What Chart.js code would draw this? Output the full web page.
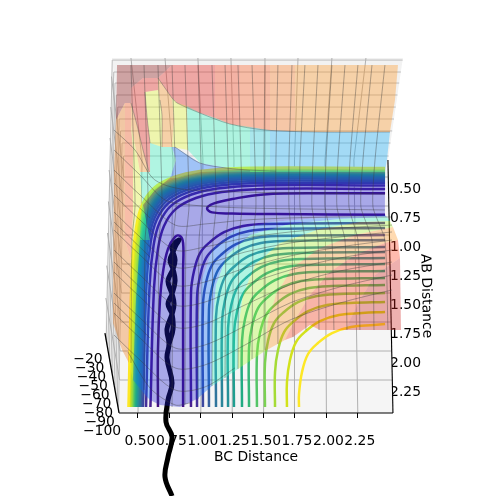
<!DOCTYPE html>
<html>
<head>
<meta charset="utf-8">
<script src="https://cdn.jsdelivr.net/npm/chart.js@4"></script>
<style>body{margin:0;background:#fff}canvas{display:block}</style>
</head>
<body>
<canvas id="grafico" width="500" height="496"></canvas>
<script>
const bcTicks = [0.5, 0.75, 1.0, 1.25, 1.5, 1.75, 2.0, 2.25];
const abTicks = [0.5, 0.75, 1.0, 1.25, 1.5, 1.75, 2.0, 2.25];
const zTicks = [-20, -30, -40, -50, -60, -70, -80, -90, -100];

const levelColors = ["#45107f", "#481f90", "#45309a", "#3d48a0", "#36609f", "#2f749c", "#2a849a", "#249198",
  "#1f9e90", "#22ab84", "#35b779", "#54c568", "#7ad151", "#a5db36", "#d2e21b", "#fde725"];

// box panes and their grid, in axis units as they appear on the page
const floorPane = [[.349,2.534],[2.53,2.534],[2.49,.353],[.389,.353]];
const backPane = [[.293,-.526],[2.609,-.526],[2.49,.353],[.389,.353]];
const leftPane = [[.293,-.526],[.237,1.845],[.349,2.534],[.389,.353]];
const xAxisLine = [[.349,2.534],[2.53,2.534]];
const yAxisLine = [[2.53,2.534],[2.49,.353]];
const zAxisLine = [[.237,1.845],[.349,2.534]];

const zGridLines = [
  [[.247,1.905],[.295,-.508],[2.607,-.508]],
  [[.26,1.983],[.307,-.405],[2.593,-.405]],
  [[.272,2.06],[.317,-.31],[2.58,-.31]],
  [[.285,2.138],[.328,-.207],[2.566,-.207]],
  [[.297,2.215],[.339,-.103],[2.552,-.103]],
  [[.31,2.293],[.35,0],[2.538,0]],
  [[.323,2.37],[.361,.103],[2.524,.103]],
  [[.335,2.448],[.373,.207],[2.51,.207]],
  [[.345,2.508],[.385,.319],[2.495,.319]],
];
const bcGridLines = [
  [[.5,2.534],[.532,.353],[.444,-.526]],
  [[.75,2.534],[.779,.353],[.715,-.526]],
  [[1,2.534],[1.017,.353],[.977,-.526]],
  [[1.25,2.534],[1.264,.353],[1.24,-.526]],
  [[1.5,2.534],[1.508,.353],[1.511,-.526]],
  [[1.75,2.534],[1.746,.353],[1.774,-.526]],
  [[2,2.534],[1.989,.353],[2.044,-.526]],
  [[2.25,2.534],[2.219,.353],[2.315,-.526]],
];
const abGridLines = [
  [[2.492,.5],[.386,.5],[.289,-.366]],
  [[2.497,.75],[.381,.75],[.283,-.103]],
  [[2.502,1],[.377,1],[.277,.164]],
  [[2.506,1.25],[.373,1.25],[.27,.44]],
  [[2.511,1.5],[.368,1.5],[.264,.711]],
  [[2.516,1.75],[.363,1.75],[.257,.983]],
  [[2.522,2],[.358,2],[.251,1.264]],
  [[2.525,2.25],[.354,2.25],[.244,1.543]],
];

// contour lines, lowest level first
const channelLoop = [[.659,2.483],[.659,1.991],[.675,1.56],[.699,1.319],[.739,1.12],[.795,1.017],[.835,1.008],[.859,1.069],[.859,1.302],[.859,2.483]];
const saddleLoop = [[2.467,.64],[2.0,.64],[1.5,.65],[1.25,.69],[1.1,.73],[1.05,.77],[1.09,.805],[1.25,.815],[1.6,.82],[2.467,.825]];
const wallContours = [
  [[.599,2.483],[.627,1.465],[.659,1.12],[.707,.922],[.802,.775],[.961,.681],[1.168,.629],[1.487,.603],[2.467,.603]],
  [[.564,2.483],[.592,1.435],[.624,1.09],[.672,.892],[.767,.745],[.926,.651],[1.133,.599],[1.452,.573],[2.467,.573]],
  [[.54,2.483],[.568,1.414],[.6,1.069],[.648,.871],[.743,.724],[.902,.63],[1.109,.578],[1.428,.552],[2.467,.552]],
  [[.524,2.483],[.552,1.396],[.584,1.051],[.632,.853],[.727,.706],[.886,.612],[1.093,.56],[1.412,.534],[2.467,.534]],
  [[.512,2.483],[.54,1.379],[.572,1.034],[.62,.836],[.715,.689],[.874,.595],[1.081,.543],[1.4,.517],[2.467,.517]],
  [[.5,2.483],[.528,1.366],[.56,1.021],[.608,.823],[.703,.676],[.862,.582],[1.069,.53],[1.388,.504],[2.467,.504]],
  [[.492,2.483],[.52,1.353],[.552,1.008],[.6,.81],[.695,.663],[.854,.569],[1.061,.517],[1.38,.491],[2.467,.491]],
  [[.484,2.483],[.512,1.345],[.544,1],[.592,.802],[.687,.655],[.846,.561],[1.053,.509],[1.372,.483],[2.467,.483]],
  [[.476,2.483],[.504,1.336],[.536,.991],[.584,.793],[.679,.646],[.838,.552],[1.045,.5],[1.364,.474],[2.467,.474]],
  [[.468,2.483],[.496,1.328],[.528,.983],[.576,.785],[.671,.638],[.83,.544],[1.037,.492],[1.356,.466],[2.467,.466]],
  [[.46,2.483],[.488,1.319],[.52,.974],[.568,.776],[.663,.629],[.822,.535],[1.029,.483],[1.348,.457],[2.467,.457]],
  [[.452,2.483],[.48,1.31],[.512,.965],[.56,.767],[.655,.62],[.814,.526],[1.021,.474],[1.34,.448],[2.467,.448]],
  [[.444,2.483],[.472,1.302],[.504,.957],[.552,.759],[.647,.612],[.806,.518],[1.013,.466],[1.332,.44],[2.467,.44]],
  [[.432,2.483],[.46,1.293],[.492,.948],[.54,.75],[.635,.603],[.794,.509],[1.001,.457],[1.32,.431],[2.467,.431]],
  [[.424,2.483],[.452,1.284],[.484,.939],[.532,.741],[.627,.594],[.786,.5],[.993,.448],[1.312,.422],[2.467,.422]],
];
const plateauContours = [
  [[.922,2.483],[.922,1.5],[.946,1.311],[.994,1.156],[1.073,1.061],[1.185,.975],[1.336,.923],[1.519,.906],[2.467,.897]],
  [[.97,2.483],[.97,1.543],[.994,1.354],[1.042,1.199],[1.121,1.104],[1.233,1.018],[1.384,.966],[1.567,.949],[2.467,.94]],
  [[1.017,2.483],[1.017,1.603],[1.041,1.414],[1.089,1.259],[1.168,1.164],[1.28,1.078],[1.431,1.026],[1.614,1.009],[2.467,1]],
  [[1.065,2.483],[1.065,1.646],[1.089,1.457],[1.137,1.302],[1.216,1.207],[1.328,1.121],[1.479,1.069],[1.662,1.052],[2.467,1.043]],
  [[1.121,2.483],[1.121,1.706],[1.145,1.517],[1.193,1.362],[1.272,1.267],[1.384,1.181],[1.535,1.129],[1.718,1.112],[2.467,1.103]],
  [[1.169,2.483],[1.169,1.75],[1.193,1.561],[1.241,1.406],[1.32,1.311],[1.432,1.225],[1.583,1.173],[1.766,1.156],[2.467,1.147]],
  [[1.217,2.483],[1.217,1.801],[1.241,1.612],[1.289,1.457],[1.368,1.362],[1.48,1.276],[1.631,1.224],[1.814,1.207],[2.467,1.198]],
  [[1.264,2.483],[1.264,1.853],[1.288,1.664],[1.336,1.509],[1.415,1.414],[1.527,1.328],[1.678,1.276],[1.861,1.259],[2.467,1.25]],
  [[1.328,2.483],[1.328,1.913],[1.352,1.724],[1.4,1.569],[1.479,1.474],[1.591,1.388],[1.742,1.336],[1.925,1.319],[2.467,1.31]],
  [[1.384,2.483],[1.384,1.974],[1.408,1.785],[1.456,1.63],[1.535,1.535],[1.647,1.449],[1.798,1.397],[1.981,1.38],[2.467,1.371]],
  [[1.447,2.483],[1.447,2.034],[1.471,1.845],[1.519,1.69],[1.598,1.595],[1.71,1.509],[1.861,1.457],[2.044,1.44],[2.467,1.431]],
  [[1.511,2.483],[1.511,2.103],[1.535,1.914],[1.583,1.759],[1.662,1.664],[1.774,1.578],[1.925,1.526],[2.108,1.509],[2.467,1.5]],
  [[1.591,2.483],[1.591,2.181],[1.615,1.992],[1.663,1.837],[1.742,1.742],[1.854,1.656],[2.005,1.604],[2.188,1.587],[2.467,1.578]],
  [[1.686,2.483],[1.686,2.267],[1.71,2.078],[1.758,1.923],[1.837,1.828],[1.949,1.742],[2.1,1.69],[2.283,1.673],[2.467,1.664]],
  [[1.782,2.483],[1.782,2.37],[1.806,2.181],[1.854,2.026],[1.933,1.931],[2.045,1.845],[2.196,1.793],[2.379,1.776],[2.467,1.767]],
];

// trajectory, up one strand of the channel, back down the other, then out past the bottom axis
const trajectory = [[.747,1.94],[.779,1.81],[.771,1.681],[.739,1.595],[.771,1.508],[.795,1.396],[.779,1.293],[.755,1.216],[.779,1.147],[.803,1.086],[.827,1.043],
  [.795,1.069],[.771,1.112],[.779,1.147],[.795,1.216],[.779,1.293],[.739,1.396],[.771,1.508],[.787,1.595],[.771,1.681],[.731,1.81],[.747,1.94],[.731,2.06],
  [.771,2.276],[.739,2.422],[.723,2.612],[.771,2.741],[.739,2.914],[.715,3.086],[.771,3.25]];

// coloured patches of the translucent surface
const roseTop = [[.333,-.465],[.771,-.465],[.659,-.353],[.54,-.353],[.444,-.267],[.444,-.138],[.396,-.138],[.325,.009]];
const pinkTop = [[.771,-.465],[1.113,-.465],[1.113,-.008],[.994,-.051],[.811,-.138],[.771,-.181],[.715,-.267],[.659,-.353]];
const salmonTopA = [[1.113,-.465],[1.312,-.465],[1.312,.06],[1.232,.043],[1.113,-.008]];
const salmonTopB = [[1.312,-.465],[1.551,-.465],[1.551,.097],[1.312,.06]];
const peachTopA = [[1.551,-.465],[1.75,-.465],[1.75,.107],[1.551,.097]];
const peachTop = [[1.75,-.465],[2.57,-.465],[2.546,-.164],[2.506,.112],[1.925,.112],[1.75,.107]];
const peachArc = [[.659,-.353],[.715,-.267],[.771,-.181],[.787,.009],[.771,.242],[.691,.242],[.691,-.034],[.675,-.164],[.659,-.25]];
const yellowArc = [[.771,-.181],[.811,-.138],[.89,-.112],[.898,.267],[.771,.242],[.787,.009]];
const mintArc = [[.89,-.112],[.994,-.051],[1.113,-.008],[1.232,.043],[1.392,.069],[1.392,.44],[1.209,.423],[.994,.38],[.898,.267]];
const mintSky = [[1.392,.069],[1.551,.097],[1.551,.457],[1.392,.457],[1.392,.44]];
const skyTop = [[1.551,.097],[1.925,.112],[2.506,.112],[2.482,.353],[2.466,.457],[1.551,.457]];
const yellowTip = [[.556,-.233],[.572,-.017],[.596,.207],[.691,.242],[.691,-.034],[.675,-.164],[.659,-.25]];
const pinkStrip = [[.444,-.267],[.54,-.353],[.659,-.353],[.659,-.25],[.556,-.233],[.572,-.017],[.596,.207],[.596,.457],[.588,.457],[.54,.267],[.492,.052],[.444,-.138]];
const peachStrip = [[.444,-.138],[.492,.052],[.54,.267],[.588,.457],[.516,.457],[.484,.267],[.444,.052]];
const mintCorner = [[.596,.207],[.691,.242],[.771,.242],[.803,.353],[.755,.509],[.635,.612],[.54,.741],[.596,.457]];
const blueCorner = [[.771,.242],[.795,.242],[.994,.38],[1.209,.423],[1.392,.44],[1.392,.457],[.994,.457],[.811,.509],[.755,.509],[.803,.353]];
const tanLeft = [[.325,.009],[.396,-.138],[.396,1.043],[.444,1.216],[.428,2.103],[.373,1.991],[.301,1.758],[.301,1.56],[.309,.44]];
const salmonLeft = [[.396,-.138],[.444,-.138],[.444,.052],[.46,.267],[.46,.828],[.444,1.216],[.396,1.043]];
const yellowLeft = [[.444,.052],[.484,.267],[.516,.457],[.532,.698],[.516,1.043],[.484,1.56],[.46,2.25],[.428,2.103],[.444,1.216],[.46,.828],[.46,.267]];
const mintLeft = [[.516,.457],[.596,.457],[.54,.741],[.596,1.043],[.516,1.043],[.532,.698]];
const blueLeft = [[.516,1.043],[.596,1.043],[.596,1.56],[.596,2.422],[.572,2.396],[.46,2.25],[.484,1.56]];

const edgeBlue = [[.97,2.414],[.978,1.819],[1.009,1.388],[1.097,1.112],[1.272,.957],[1.551,.888],[1.949,.853],[2.466,.828]];
const edgeMint = [[1.089,2.302],[1.089,1.819],[1.121,1.431],[1.209,1.172],[1.392,1],[1.71,.905],[2.108,.862],[2.482,.845]];
const edgeGreen = [[1.296,2.155],[1.296,1.819],[1.336,1.517],[1.431,1.259],[1.63,1.069],[1.949,.948],[2.267,.888],[2.506,.879]];
const edgePeach = [[1.511,2],[1.535,1.733],[1.598,1.517],[1.726,1.285],[1.949,1.112],[2.227,1],[2.53,.931]];
const edgeSalmon = [[1.67,1.905],[1.75,1.733],[1.869,1.517],[2.028,1.319],[2.227,1.172],[2.466,1.069],[2.57,1.043]];
const valleyRim = [[2.466,.457],[1.392,.457],[.994,.457],[.811,.509],[.755,.509],[.635,.612],[.54,.741],[.596,1.043],[.596,1.56],[.596,2.422],[.675,2.465],[.835,2.483]];
const salmonTail = [[2.586,1.198],[2.387,1.345],[2.267,1.56],[2.148,1.819],[1.949,1.819],[1.869,1.776],[1.734,1.88]];
const rosePatch = [[2.148,1.819],[2.267,1.56],[2.387,1.345],[2.586,1.198],[2.594,1.819]];

// wire mesh over the surface
const arcEdges = [
  [[.659,-.353],[.715,-.267],[.771,-.181],[.811,-.138],[.994,-.051],[1.232,.043],[1.511,.095],[1.925,.112],[2.506,.112]],
  [[.795,.242],[.994,.38],[1.209,.423],[1.392,.44],[1.6,.45]],
  [[.556,-.233],[.572,-.017],[.596,.207]],
  [[.444,-.138],[.492,.052],[.54,.267],[.588,.457]],
  [[.675,-.164],[.691,-.034],[.691,.242]],
];
const meshColumnAB = [-.465, .353, .759, 1.043];
const meshColumns = [
  [.444,.468,.476,.452,.444,2.103],[.548,.572,.58,.556,.548,2.336],[.659,.683,.691,.667,.659,2.457],
  [.771,.795,.803,.779,.771,2.483],[.874,.898,.906,.882,.874,2.457],[.978,1.001,1.009,.986,.978,2.414],
  [1.089,1.113,1.121,1.097,1.089,2.302],[1.193,1.216,1.224,1.201,1.193,2.233],[1.296,1.32,1.328,1.304,1.296,2.155],
  [1.408,1.431,1.439,1.416,1.408,2.069],[1.511,1.503,1.503,1.511,1.511,1.991],[1.614,1.598,1.598,1.614,1.614,1.94],
  [1.726,1.702,1.702,1.726,1.734,1.88],[1.829,1.79,1.79,1.829,1.837,1.819],[1.933,1.893,1.885,1.933,1.941,1.819],
  [2.044,1.997,1.989,2.044,2.06,1.819],[2.148,2.092,2.084,2.148,2.164,1.819],[2.251,2.188,2.18,2.251,2.267,1.819],
  [2.363,2.291,2.275,2.363,2.379,1.819],[2.466,2.387,2.371,2.466,2.49,1.819],
];
const meshRowBC = [.309, .516, .795, 1.033, 1.352, 1.71, 2.108, 2.522];
const meshRows = [
  [.44,.655,.914,.905,.871,.853,.845,.845],
  [.655,.871,1.129,1.103,1.026,.974,.94,.914],
  [.802,1.017,1.276,1.25,1.147,1.069,1.017,.974],
  [.957,1.172,1.431,1.405,1.285,1.181,1.103,1.043],
  [1.129,1.345,1.603,1.578,1.431,1.302,1.198,1.129],
  [1.319,1.534,1.793,1.767,1.603,1.431,1.31,1.233],
  [1.5,1.715,1.974,1.948,1.784,1.586,1.448,1.345],
  [1.673,1.888,2.146,2.12,1.948,1.733,1.586,1.474],
];
const meshExtras = [
  [[.309,.095],[.476,.267],[.635,.526],[.914,.612],[2.466,.647]],
  [[.309,.267],[.516,.483],[.715,.698],[.914,.741],[1.352,.767],[2.466,.784]],
  [[.309,1.862],[.516,2.078],[.795,2.336],[1.033,2.31],[1.272,2.146]],
  [[.42,2.009],[.596,2.319],[.795,2.465],[.914,2.448]],
  [[.309,.552],[.596,.854]],
  [[.309,.888],[.596,1.19]],
  [[.309,1.233],[.596,1.535]],
  [[.309,1.586],[.596,1.888]],
];

function zipLine(xs, ys) {
  return ys.map((y, i) => [xs[i], y]);
}
function pts(list) {
  return list.map(([x, y]) => ({ x, y }));
}
const datasets = [];
function addLine(list, color, width, tension) {
  datasets.push({ data: pts(list), showLine: true, pointRadius: 0, borderColor: color, borderWidth: width, tension: tension || 0, fill: false });
}
function addPatch(list, color) {
  datasets.push({ data: pts(list), showLine: true, pointRadius: 0, borderWidth: 0, borderColor: "transparent", backgroundColor: color, fill: "shape", tension: 0 });
}

addPatch(backPane, "#f2f2f2");
addPatch(leftPane, "#f8f8f8");
addPatch(floorPane, "#f5f5f5");
zGridLines.forEach((l) => addLine(l, "#bcbcbc", 1));
bcGridLines.forEach((l) => addLine(l, "#b0b0b0", 1));
abGridLines.forEach((l) => addLine(l, "#b0b0b0", 1));
addLine(xAxisLine, "#000", 1.1);
addLine(yAxisLine, "#000", 1.1);
addLine(zAxisLine, "#000", 1.3);

wallContours.forEach((l, i) => addLine(l, levelColors[i + 1], 2.5, 0.4));
plateauContours.forEach((l, i) => addLine(l, levelColors[i + 1], 2.5, 0.4));
addLine(channelLoop, levelColors[0], 2.5, 0.4);
addLine(saddleLoop, levelColors[0], 2.5, 0.4);
addLine(trajectory, "#000", 5, 0.4);

addPatch(roseTop, "rgba(139,18,18,0.35)");
addPatch(pinkTop, "rgba(233,29,21,0.35)");
addPatch(salmonTopA, "rgba(250,61,21,0.35)");
addPatch(salmonTopB, "rgba(255,90,27,0.35)");
addPatch(peachTopA, "rgba(255,121,30,0.35)");
addPatch(peachTop, "rgba(255,150,32,0.35)");
addPatch(peachArc, "rgba(255,150,32,0.35)");
addPatch(yellowArc, "rgba(233,253,50,0.35)");
addPatch(mintArc, "rgba(50,247,193,0.35)");
addPatch(mintSky, "rgba(34,212,225,0.35)");
addPatch(skyTop, "rgba(18,175,253,0.35)");
addPatch(yellowTip, "rgba(233,253,50,0.35)");
addPatch(pinkStrip, "rgba(233,29,21,0.35)");
addPatch(peachStrip, "rgba(255,150,32,0.35)");
addPatch(mintCorner, "rgba(50,247,193,0.35)");
addPatch(blueCorner, "rgba(4,104,253,0.35)");
addPatch(tanLeft, "rgba(240,120,20,0.35)");
addPatch(salmonLeft, "rgba(255,87,27,0.35)");
addPatch(yellowLeft, "rgba(233,253,50,0.35)");
addPatch(mintLeft, "rgba(50,247,193,0.35)");
addPatch(blueLeft, "rgba(4,104,253,0.35)");
addPatch(valleyRim.concat(edgeBlue), "rgba(27,27,210,0.35)");
addPatch(edgeBlue.concat(edgeMint.slice().reverse()), "rgba(4,104,253,0.35)");
addPatch(edgeMint.concat(edgeGreen.slice().reverse()), "rgba(50,247,193,0.35)");
addPatch(edgeGreen.concat(edgePeach.slice().reverse()), "rgba(175,253,50,0.35)");
addPatch(edgePeach.concat(edgeSalmon.slice().reverse()), "rgba(255,150,32,0.35)");
addPatch(edgeSalmon.concat(salmonTail), "rgba(255,60,24,0.35)");
addPatch(rosePatch, "rgba(205,30,25,0.35)");

arcEdges.forEach((l) => addLine(l, "rgba(70,70,70,0.55)", 0.7, 0.3));
meshColumns.forEach((c) => {
  addLine(zipLine(c, meshColumnAB).concat([[c[4], c[5]]]), "rgba(60,60,60,0.5)", 0.8, 0.2);
});
meshRows.forEach((r) => addLine(zipLine(meshRowBC, r), "rgba(60,60,60,0.5)", 0.8, 0.3));
meshExtras.forEach((l) => addLine(l, "rgba(60,60,60,0.5)", 0.8, 0.3));

datasets.forEach((d, i) => { d.order = datasets.length - i; });

const tickFont = { family: "DejaVu Sans", size: 13.9 };
const noPadding = (s) => { s.paddingTop = 0; s.paddingBottom = 0; s.paddingLeft = 0; s.paddingRight = 0; };
const boxText = {
  id: "boxText",
  afterDraw(chart) {
    const { ctx, scales } = chart;
    ctx.save();
    ctx.fillStyle = "#000";
    ctx.font = "13.9px 'DejaVu Sans'";
    ctx.textAlign = "center";
    ctx.textBaseline = "middle";
    zTicks.forEach((v) => {
      const x = scales.x.getPixelForValue(0.102 + (-20 - v) * 0.00139);
      ctx.fillText("\u2212" + Math.abs(v), x, scales.z.getPixelForValue(v));
    });
    ctx.fillText("BC Distance", scales.x.getPixelForValue(1.44), scales.y.getPixelForValue(2.914));
    ctx.translate(scales.x.getPixelForValue(2.793), scales.y.getPixelForValue(1.526));
    ctx.rotate(Math.PI / 2 - 0.025);
    ctx.fillText("AB Distance", 0, 0);
    ctx.restore();
  },
};

new Chart(document.getElementById("grafico"), {
  type: "scatter",
  data: { datasets },
  plugins: [boxText],
  options: {
    responsive: false,
    animation: false,
    layout: { padding: 0 },
    plugins: { legend: { display: false }, tooltip: { enabled: false } },
    scales: {
      x: {
        min: -0.5987,
        max: 3.3822,
        position: { y: 2.534 },
        border: { display: false },
        grid: { drawOnChartArea: false, tickLength: 5, tickColor: "#000" },
        afterBuildTicks: (s) => { s.ticks = bcTicks.map((value) => ({ value })); },
        afterFit: noPadding,
        ticks: { display: false },
      },
      bcLabels: {
        axis: "x",
        min: -0.6146,
        max: 3.3663,
        position: { y: 2.534 },
        border: { display: false },
        grid: { display: false },
        afterBuildTicks: (s) => { s.ticks = bcTicks.map((value) => ({ value })); },
        afterFit: noPadding,
        ticks: { font: tickFont, color: "#000", padding: 12, autoSkip: false, maxRotation: 0, minRotation: 0, callback: (v) => v.toFixed(2) },
      },
      y: {
        min: -1.0259,
        max: 3.25,
        reverse: true,
        position: { x: 2.49 },
        border: { display: false },
        grid: { drawOnChartArea: false, tickLength: 7, tickColor: "#000" },
        afterBuildTicks: (s) => { s.ticks = abTicks.map((value) => ({ value })); },
        afterFit: noPadding,
        ticks: { display: false },
      },
      abLabels: {
        axis: "y",
        min: -1.1293,
        max: 3.1466,
        reverse: true,
        position: { x: 2.753 },
        border: { display: false },
        grid: { display: false },
        afterBuildTicks: (s) => { s.ticks = abTicks.map((value) => ({ value })); },
        afterFit: noPadding,
        ticks: { font: tickFont, color: "#000", padding: 0, autoSkip: false, callback: (v) => v.toFixed(2) },
      },
      z: {
        axis: "y",
        min: -172.2,
        max: 378.9,
        position: { x: 0.349 },
        border: { display: false },
        grid: { display: false },
        afterFit: noPadding,
        ticks: { display: false },
      },
    },
  },
});
</script>
</body>
</html>
